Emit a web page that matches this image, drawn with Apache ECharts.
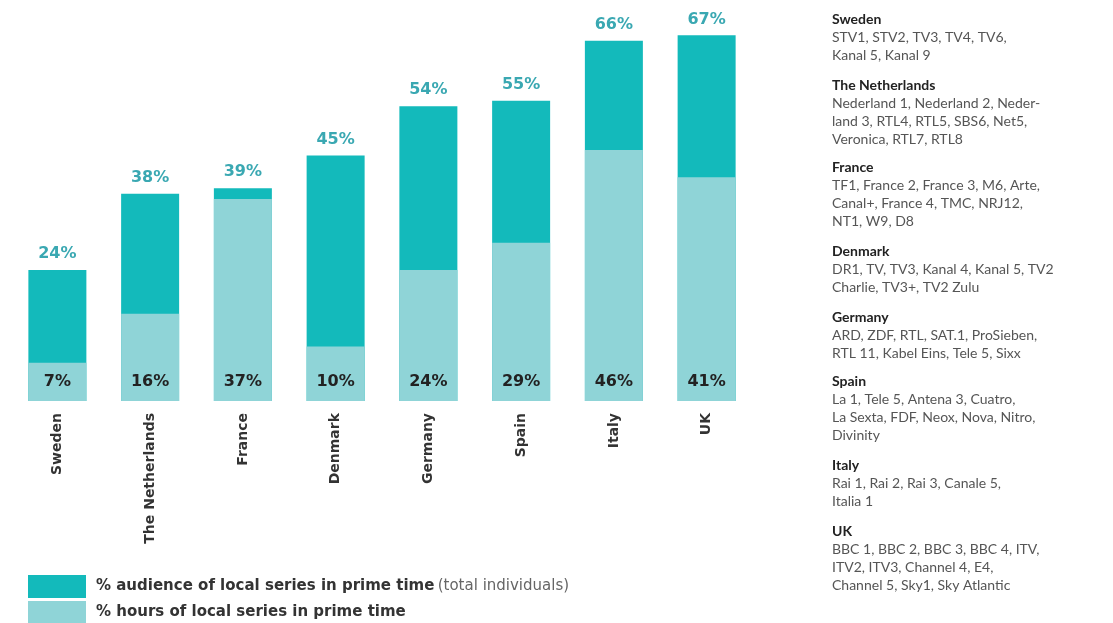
<!DOCTYPE html>
<html><head><meta charset="utf-8">
<script src="https://cdn.jsdelivr.net/npm/echarts@6/dist/echarts.min.js"></script>
<style>html,body{margin:0;padding:0;background:#fff}#c{width:1113px;height:623px}</style>
</head><body><div id="c"></div>
<script>
const categories = ['Sweden','The Netherlands','France','Denmark','Germany','Spain','Italy','UK'];
const audience = [24,38,39,45,54,55,66,67];
const hours = [7,16,37,10,24,29,46,41];
const seriesNames = ['% audience of local series in prime time','% hours of local series in prime time'];
const channelCountries = ['Sweden','The Netherlands','France','Denmark','Germany','Spain','Italy','UK'];
const channelLines = [
  ['STV1, STV2, TV3, TV4, TV6,','Kanal 5, Kanal 9'],
  ['Nederland 1, Nederland 2, Neder-','land 3, RTL4, RTL5, SBS6, Net5,','Veronica, RTL7, RTL8'],
  ['TF1, France 2, France 3, M6, Arte,','Canal+, France 4, TMC, NRJ12,','NT1, W9, D8'],
  ['DR1, TV, TV3, Kanal 4, Kanal 5, TV2','Charlie, TV3+, TV2 Zulu'],
  ['ARD, ZDF, RTL, SAT.1, ProSieben,','RTL 11, Kabel Eins, Tele 5, Sixx'],
  ['La 1, Tele 5, Antena 3, Cuatro,','La Sexta, FDF, Neox, Nova, Nitro,','Divinity'],
  ['Rai 1, Rai 2, Rai 3, Canale 5,','Italia 1'],
  ['BBC 1, BBC 2, BBC 3, BBC 4, ITV,','ITV2, ITV3, Channel 4, E4,','Channel 5, Sky1, Sky Atlantic']
];
const FONT = 'Lato';
const WIDE = 'DejaVu Sans';
const DARK = '#13babb', LIGHT = '#8fd4d7';
const GROUP_TOPS = [12, 78, 160, 244, 310, 374, 458, 524];

const graphics = channelCountries.map((c, i) => ({
  type: 'text', left: 832, top: GROUP_TOPS[i],
  style: {
    text: '{h|' + c + '}\n' + channelLines[i].map(l => '{c|' + l + '}').join('\n'),
    rich: {
      h: {fontFamily: FONT, fontSize: 14, fontWeight: 'bold', fill: '#222', lineHeight: 18},
      c: {fontFamily: FONT, fontSize: 14, fill: '#555', lineHeight: 18}
    }
  }
}));

const chart = echarts.init(document.getElementById('c'));
chart.setOption({
  animation: false,
  grid: {left: 11, right: 360, top: 19, bottom: 222},
  legend: {
    orient: 'vertical', left: 28, top: 575, padding: 0,
    itemWidth: 58, itemHeight: 23, itemGap: 3, height: 60,
    icon: 'rect', selectedMode: false,
    data: seriesNames,
    formatter: function (n) {
      return n === seriesNames[0] ? '{b|' + n + '} {n|(total individuals)}' : '{b|' + n + '}';
    },
    textStyle: {
      padding: [0, 0, 0, 5],
      rich: {
        b: {fontFamily: WIDE, fontSize: 15, fontWeight: 'bold', color: '#333'},
        n: {fontFamily: WIDE, fontSize: 15, color: '#666'}
      }
    }
  },
  xAxis: {
    type: 'category', data: categories,
    axisLine: {show: false}, axisTick: {show: false},
    axisLabel: {rotate: 90, margin: 12, fontFamily: WIDE, fontSize: 14, fontWeight: 'bold', color: '#333', interval: 0}
  },
  yAxis: {type: 'value', min: 0, max: 70, show: false, splitLine: {show: false}},
  series: [
    {
      name: seriesNames[0], type: 'bar', data: audience, barWidth: 58, barGap: '-100%',
      itemStyle: {color: DARK},
      label: {show: true, position: 'top', distance: 8, formatter: '{c}%', fontFamily: WIDE, fontSize: 16, fontWeight: 'bold', color: '#3aa8b2'}
    },
    {
      name: seriesNames[1], type: 'bar', data: hours, barWidth: 58, barGap: '-100%',
      itemStyle: {color: LIGHT},
      label: {show: true, position: 'insideBottom', distance: 11, formatter: '{c}%', fontFamily: WIDE, fontSize: 16, fontWeight: 'bold', color: '#222'}
    }
  ],
  graphic: graphics
});
</script></body></html>
